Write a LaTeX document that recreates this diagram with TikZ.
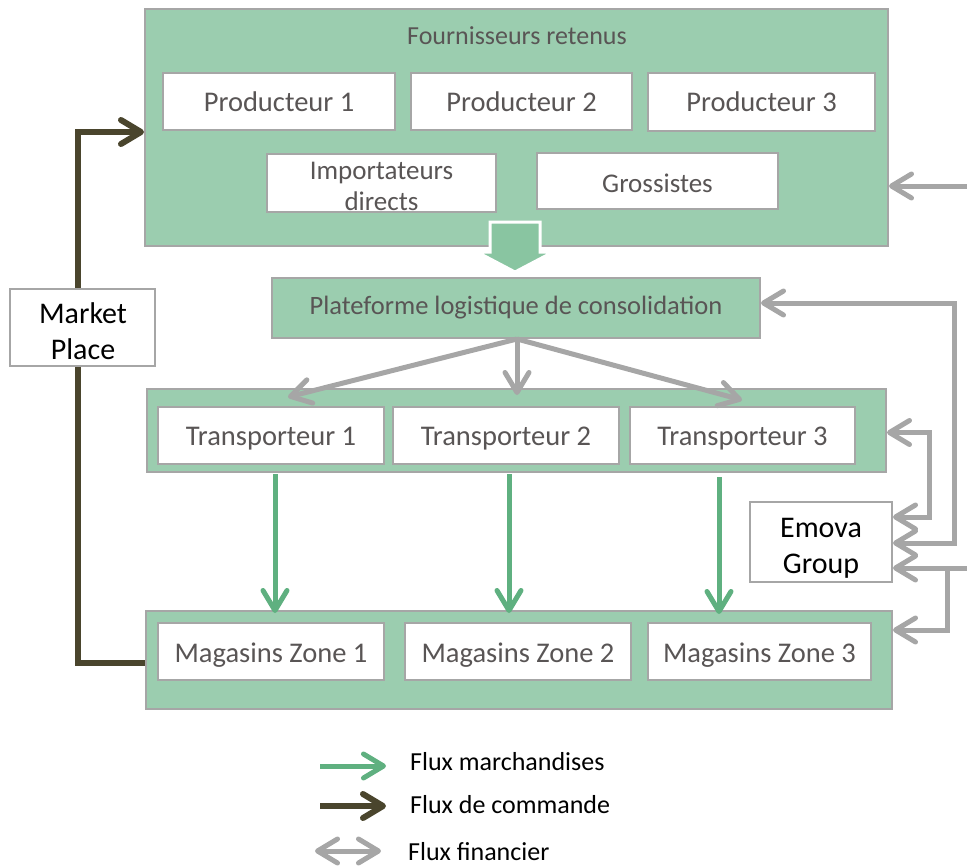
\documentclass[tikz,border=0pt]{standalone}
\usepackage{fontspec}
\setmainfont{Carlito}
\usetikzlibrary{arrows.meta,calc}
\definecolor{boxgreen}{RGB}{155,205,175}
\definecolor{boxline}{RGB}{166,166,166}
\definecolor{txtgrey}{RGB}{89,85,85}
\definecolor{flowgreen}{RGB}{95,176,128}
\definecolor{flowdark}{RGB}{74,69,45}
\definecolor{flowgrey}{RGB}{166,166,166}
\definecolor{bigarrow}{RGB}{137,197,161}
\newcommand{\lowertext}[2]{\raisebox{-#1}[\height][\depth]{#2}}
\begin{document}
\begin{tikzpicture}[x=1pt,y=-1pt,
  container/.style={draw=boxline, line width=2pt, fill=boxgreen, inner sep=0pt},
  whitebox/.style={draw=boxline, line width=2pt, fill=white, inner sep=0pt, text=txtgrey,
    font=\fontsize{28.5}{32}\selectfont, align=center},
  smallbox/.style={whitebox, font=\fontsize{27}{31}\selectfont},
  smalltext/.style={text=txtgrey, font=\fontsize{27}{31}\selectfont, align=center, inner sep=0pt},
  sidebox/.style={draw=boxline, line width=2pt, fill=white, inner sep=0pt},
  sidetext/.style={text=black, font=\fontsize{30}{36}\selectfont, align=center, inner sep=0pt},
  legtext/.style={anchor=west, text=black, font=\fontsize{26}{30}\selectfont, inner sep=0pt},
  fin/.style={draw=flowgrey, line width=5pt, -{Straight Barb[length=20pt,width=24pt,round]}},
  finboth/.style={draw=flowgrey, line width=5pt, {Straight Barb[length=20pt,width=24pt,round]}-{Straight Barb[length=20pt,width=24pt,round]}},
  goods/.style={draw=flowgreen, line width=5pt, -{Straight Barb[length=20pt,width=24pt,round]}},
  cmd/.style={draw=flowdark, line width=6pt, -{Straight Barb[length=20pt,width=24pt,round]}}
]
\useasboundingbox (0,0) rectangle (967,867);

% containers
\node[container, minimum width=743pt, minimum height=237pt] (four) at (516.5,127.5) {};
\node[font=\fontsize{26}{30}\selectfont, text=txtgrey] (title) at (517,36) {Fournisseurs retenus};
\node[whitebox, minimum width=232pt, minimum height=57pt] (p1) at (279,101.5) {Producteur 1};
\node[whitebox, minimum width=221pt, minimum height=57pt] (p2) at (521.5,101.5) {Producteur 2};
\node[whitebox, minimum width=227pt, minimum height=57pt] (p3) at (761.5,102) {Producteur 3};
\node[smallbox, minimum width=229pt, minimum height=58pt] (imp) at (381.5,183) {};
\node[smalltext] (impt) at (381.5,186) {Importateurs\\directs};
\node[smallbox, minimum width=241pt, minimum height=56pt] (gros) at (657.5,181) {\lowertext{2pt}{Grossistes}};

% block arrow
\draw[white, line width=3pt, fill=bigarrow, line join=miter]
  (490,222) -- (540,222) -- (540,252) -- (553,252) -- (515,272) -- (477,252) -- (490,252) -- cycle;

\node[container, minimum width=488pt, minimum height=60pt, text=txtgrey,
  font=\fontsize{26.5}{30}\selectfont, inner sep=0pt] (plat) at (516,308) {Plateforme logistique de consolidation};

\node[container, minimum width=739pt, minimum height=83pt] (trans) at (516.5,430.5) {};
\node[whitebox, minimum width=226pt, minimum height=57pt] (t1) at (271,435.5) {\lowertext{3.5pt}{Transporteur 1}};
\node[whitebox, minimum width=226pt, minimum height=57pt] (t2) at (506,435.5) {\lowertext{3.5pt}{Transporteur 2}};
\node[whitebox, minimum width=225pt, minimum height=57pt] (t3) at (742.5,435.5) {\lowertext{3.5pt}{Transporteur 3}};

\node[container, minimum width=746pt, minimum height=98pt] (mag) at (519,660) {};
\node[whitebox, minimum width=226pt, minimum height=57pt] (m1) at (271,651.5) {\lowertext{3.5pt}{Magasins Zone 1}};
\node[whitebox, minimum width=226pt, minimum height=57pt] (m2) at (518,651.5) {\lowertext{3.5pt}{Magasins Zone 2}};
\node[whitebox, minimum width=223pt, minimum height=57pt] (m3) at (759.5,651.5) {\lowertext{3.5pt}{Magasins Zone 3}};

% command flow
\coordinate (cA) at (78,132);
\draw[cmd] ([yshift=-3pt]mag.west) -| (cA) -- (cA -| four.west);
\node[sidebox, minimum width=145pt, minimum height=77pt] (market) at (82.5,327.5) {};
\node[sidetext] (markett) at (83,331) {Market\\Place};

\node[sidebox, minimum width=142pt, minimum height=80pt] (emova) at (821,542) {};
\node[sidetext] (emovat) at (821,548.5) {Emova\\Group};

% platform to carriers
\coordinate (pa1) at (288,397);
\coordinate (pa2) at (517,395);
\coordinate (pa3) at (742,400);
\draw[fin] ([xshift=1pt]plat.south) -- (pa1);
\draw[fin] ([xshift=1pt]plat.south) -- (pa2);
\draw[fin] ([xshift=1pt]plat.south) -- (pa3);

% goods flow
\coordinate (ga1) at (275,474); \coordinate (gb1) at (275,613);
\coordinate (ga2) at (509,474); \coordinate (gb2) at (509,613);
\coordinate (ga3) at (719,477); \coordinate (gb3) at (719,614);
\draw[goods] (ga1) -- (gb1);
\draw[goods] (ga2) -- (gb2);
\draw[goods] (ga3) -- (gb3);

% financial flows
\coordinate (r1) at (967,186);
\draw[fin] (r1) -- (r1 -| four.east);
\draw[finboth] ([yshift=5pt]plat.east) -- ++(193,0) |- ([yshift=-1pt]emova.east);
\draw[finboth] ([yshift=-2pt]trans.east) -- ++(42,0) |- ([yshift=25pt]emova.east);
\coordinate (r2) at (967,568);
\coordinate (r3) at (947,568);
\draw[fin] (r2) -- (r2 -| emova.east);
\draw[fin] (r3) |- ([yshift=30pt]mag.east);

% legend
\coordinate (la1) at (320,766); \coordinate (lb1) at (386,766);
\coordinate (la2) at (320,806); \coordinate (lb2) at (386,806);
\coordinate (la3) at (315,851); \coordinate (lb3) at (381,851);
\draw[goods] (la1) -- (lb1);
\draw[cmd] (la2) -- (lb2);
\draw[finboth] (la3) -- (lb3);
\node[legtext] (l1) at (410,762) {Flux marchandises};
\node[legtext] (l2) at (410,805) {Flux de commande};
\node[legtext] (l3) at (408,852) {Flux financier};
\end{tikzpicture}
\end{document}
